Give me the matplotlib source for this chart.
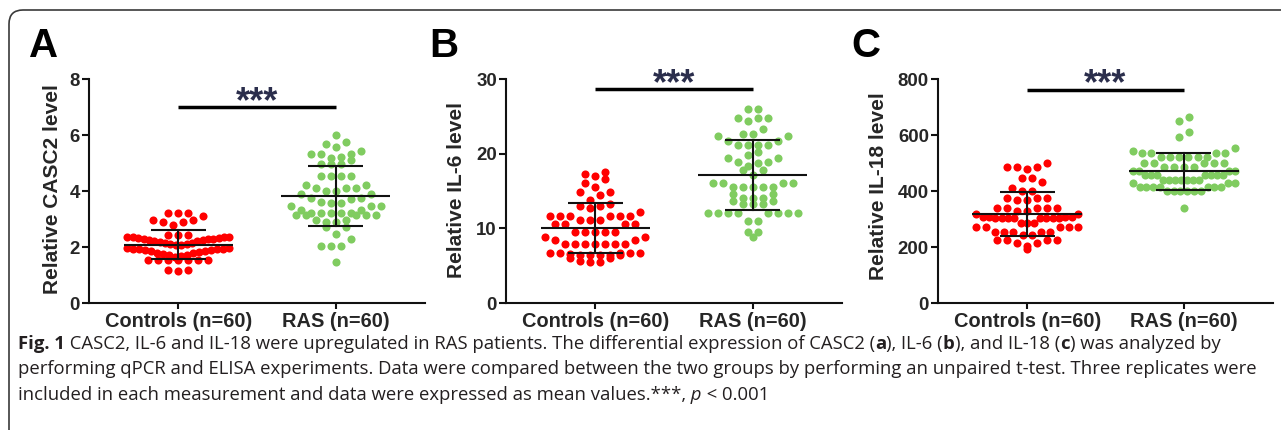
import numpy as np
import matplotlib
matplotlib.use("Agg")
import matplotlib.pyplot as plt
from matplotlib.patches import FancyBboxPatch
from matplotlib.transforms import IdentityTransform, offset_copy

# ---------------- data ----------------
groups = ["Controls (n=60)", "RAS (n=60)"]
panel_letters = ["A", "B", "C"]
y_labels = ["Relative CASC2 level", "Relative IL-6 level", "Relative IL-18 level"]
y_ticks = [[0, 2, 4, 6, 8], [0, 10, 20, 30], [0, 200, 400, 600, 800]]

casc2_controls = [3.20, 3.20, 3.20,
                  3.12, 2.98, 2.98, 2.88, 2.88, 2.79,
                  2.43, 2.43, 2.43,
                  2.35, 2.35, 2.34, 2.34, 2.33, 2.33, 2.30, 2.29, 2.27, 2.26,
                  2.24, 2.22, 2.20, 2.18, 2.16, 2.14, 2.12, 2.10, 2.08, 2.06,
                  1.95, 1.95, 1.94, 1.94, 1.93, 1.92, 1.90, 1.88, 1.86, 1.84,
                  1.82, 1.80, 1.78, 1.75, 1.72, 1.70, 1.67, 1.64,
                  1.55, 1.54, 1.53, 1.53, 1.53, 1.54, 1.55,
                  1.17, 1.16, 1.17]
casc2_ras = [6.00, 5.76, 5.67, 5.58, 5.43, 5.31, 5.31, 5.31, 5.23, 5.19, 5.11,
             4.95, 4.95, 4.95, 4.55, 4.55, 4.55, 4.55, 4.21, 4.21, 4.12, 4.12, 4.12,
             4.00, 4.00, 3.88, 3.88, 3.76, 3.76, 3.70, 3.62, 3.56, 3.56, 3.46, 3.46, 3.46,
             3.32, 3.32, 3.20, 3.20, 3.20, 3.20, 3.20, 3.14, 3.14, 3.14, 3.14, 3.14,
             2.96, 2.96, 2.90, 2.90, 2.73, 2.73, 2.45, 2.29, 2.05, 2.05, 2.05, 1.45]
il6_controls = [17.6, 17.3, 17.0, 16.65, 16.07, 15.6, 14.9, 14.9, 14.4, 13.8, 13.3,
                12.95, 12.95, 12.7, 12.2, 11.7, 11.7, 11.7, 11.7, 11.7, 11.7,
                11.1, 11.1, 11.1, 10.6, 10.6, 10.6, 10.6, 9.5, 9.5, 9.5, 9.5, 9.5,
                8.8, 8.8, 8.45, 8.45, 7.9, 7.9, 7.9, 7.9, 7.9, 7.9, 7.9,
                6.7, 6.7, 6.45, 6.4, 6.4, 6.7, 6.7, 6.42, 6.38, 6.5, 6.7,
                5.6, 5.5, 5.5, 6.0, 6.0]
il6_ras = [26.0, 26.0, 24.8, 24.8, 24.8, 24.4, 23.3, 22.7, 22.7, 22.3, 22.3, 21.7, 21.7,
           21.15, 21.15, 21.15, 21.15, 20.2, 19.8, 19.46, 19.46, 18.9, 18.9, 18.7, 18.4,
           17.8, 17.8, 17.1, 16.03, 16.03, 16.03, 16.03, 15.6, 15.6, 15.6, 15.6, 15.6,
           14.56, 14.56, 14.0, 14.0, 14.0, 13.7, 13.7, 13.2, 13.2, 13.2,
           12.0, 12.0, 12.0, 12.0, 12.0, 12.0, 12.0, 12.0, 11.0, 11.0, 9.55, 9.55, 8.9]
il18_controls = [499, 487, 487, 487, 479, 448, 448, 433, 410, 400, 400, 376, 376, 376,
                 368, 368, 338, 338, 338, 338, 338, 329, 329, 317, 317,
                 308, 308, 308, 308, 302, 302, 302, 302, 302, 302, 302, 302,
                 285, 285, 285, 273, 273, 273, 273, 273, 255, 255, 255, 255, 255,
                 243, 243, 225, 225, 225, 225, 213, 213, 193, 202]
il18_ras = [665, 650, 610, 594, 552, 544, 535, 535, 535, 535, 522, 522, 522, 522, 522, 522,
            499, 499, 499, 499, 499, 487, 487, 487, 487, 470, 470, 470, 470,
            457, 457, 457, 457, 457, 457, 457, 439, 439, 439, 439, 439, 439, 439,
            427, 427, 427, 415, 415, 415, 415, 415, 415, 415, 400, 400, 400, 400, 400, 400, 340]

panel_data = [(casc2_controls, casc2_ras), (il6_controls, il6_ras), (il18_controls, il18_ras)]
group_means = [[2.08, 3.81], [10.04, 17.14], [318, 470]]
group_sds = [[0.51, 1.07], [3.39, 4.74], [78, 66]]
sig_bar_y = [7.0, 28.6, 762]
sig_text = "***"

caption_lines = [
    [("Fig. 1", "bold", "normal"),
     (" CASC2, IL-6 and IL-18 were upregulated in RAS patients. The differential expression of CASC2 (", "normal", "normal"),
     ("a", "bold", "normal"), ("), IL-6 (", "normal", "normal"), ("b", "bold", "normal"),
     ("), and IL-18 (", "normal", "normal"), ("c", "bold", "normal"),
     (") was analyzed by", "normal", "normal")],
    [("performing qPCR and ELISA experiments. Data were compared between the two groups by performing an unpaired t-test. Three replicates were", "normal", "normal")],
    [("included in each measurement and data were expressed as mean values.***,", "normal", "normal"),
     (" p", "normal", "italic"), (" < 0.001", "normal", "normal")],
]

# ---------------- style ----------------
W, H = 1281, 430
RED = "#FF0000"
GREEN = "#80CC60"
TXT = "#262626"
STAR = "#2B2E4C"
plt.rcParams["font.family"] = ["Liberation Sans", "DejaVu Sans"]
CAP_FONT = ["Open Sans", "DejaVu Sans"]

fig = plt.figure(figsize=(W / 100, H / 100), dpi=100)

# rounded frame
frame = FancyBboxPatch((9, -30), W + 40, H - 10 + 30,
                       boxstyle="round,pad=0,rounding_size=14",
                       transform=IdentityTransform(), fill=False,
                       edgecolor="#3a3a3a", linewidth=1.2)
fig.patches.append(frame)

axes_px = [(89, 79, 425, 303), (506, 79, 842, 303), (938, 79, 1273, 303)]
letter_px = [(29, 57), (429, 57), (851, 57)]
label_x = [-0.110, -0.146, -0.179]
label_y = [0.509, 0.504, 0.52]
bin_anchor = [3.15, 10.8, 475.0]   # row boundaries of the dot layout


def swarm_x(ax, xc, vals, anchor, row_px=11.0, dot_px=10.0, max_w=102.0):
    """Prism-like dot rows: fixed-height rows, lowest values in the centre."""
    vals = np.asarray(vals, float)
    disp = ax.transData.transform(np.column_stack([np.full(vals.size, xc), vals]))
    ys = disp[:, 1]
    x0 = disp[0, 0]
    y_anchor = ax.transData.transform((xc, anchor))[1]
    rows = np.floor((ys - y_anchor) / row_px).astype(int)
    off = np.zeros(vals.size)
    for r in np.unique(rows):
        idx = np.where(rows == r)[0]
        n = idx.size
        if n == 1:
            continue
        sp = min(dot_px, max_w / (n - 1))
        slots = (np.arange(n) - (n - 1) / 2.0) * sp
        slots = sorted(slots, key=lambda s: (abs(s), s))
        idx_sorted = sorted(idx, key=lambda i: ys[i])
        for i, s in zip(idx_sorted, slots):
            off[i] = s
    out = ax.transData.inverted().transform(np.column_stack([x0 + off, ys]))
    return out[:, 0]


for k in range(3):
    l, t, r, b = axes_px[k]
    ax = fig.add_axes([l / W, 1 - b / H, (r - l) / W, (b - t) / H])
    ax.set_xlim(-0.57, 1.57)
    ax.set_ylim(y_ticks[k][0], y_ticks[k][-1])
    ax.set_yticks(y_ticks[k])
    ax.set_xticks([0, 1])
    ax.set_xticklabels(groups)
    for s in ["top", "right"]:
        ax.spines[s].set_visible(False)
    for s in ["left", "bottom"]:
        ax.spines[s].set_linewidth(1.5)
        ax.spines[s].set_color("#111111")
    ax.tick_params(axis="y", length=5, width=1.5, pad=1.5, labelsize=13.4,
                   labelcolor=TXT, color="#111111")
    ax.tick_params(axis="x", length=4.5, width=1.5, pad=2, labelsize=14.4,
                   labelcolor=TXT, color="#111111")
    for lab in ax.get_xticklabels() + ax.get_yticklabels():
        lab.set_fontweight("bold")
    ax.set_ylabel(y_labels[k], fontsize=15, fontweight="bold", color=TXT)
    ax.yaxis.label.set_va("center")
    ax.yaxis.set_label_coords(label_x[k], label_y[k])
    ax.patch.set_visible(False)

    ctrl, ras = panel_data[k]
    for gi, (vals, col) in enumerate([(ctrl, RED), (ras, GREEN)]):
        xs = swarm_x(ax, gi, vals, bin_anchor[k])
        ax.scatter(xs, vals, s=34, color=col, linewidths=0, zorder=2, clip_on=False)
        m, sd = group_means[k][gi], group_sds[k][gi]
        ax.plot([gi - 0.35, gi + 0.35], [m, m], color="#111111", lw=1.5, zorder=3,
                solid_capstyle="butt")
        ax.plot([gi, gi], [m - sd, m + sd], color="#111111", lw=1.5, zorder=3)
        for yy in (m - sd, m + sd):
            ax.plot([gi - 0.175, gi + 0.175], [yy, yy], color="#111111", lw=1.5,
                    zorder=3, solid_capstyle="butt")

    ax.plot([0, 1], [sig_bar_y[k], sig_bar_y[k]], color="#000000", lw=2.5,
            solid_capstyle="butt", clip_on=False, zorder=3)
    ttrans = offset_copy(ax.transData, fig=fig, x=0, y=-3.6, units="points")
    ax.text(0.5, sig_bar_y[k], sig_text, transform=ttrans, ha="center", va="baseline",
            fontsize=26, fontweight="bold", color=STAR, clip_on=False)

    lx, ly = letter_px[k]
    fig.text(lx / W, 1 - ly / H, panel_letters[k], fontsize=29, fontweight="bold",
             color="#000000", ha="left", va="baseline")

# caption with mixed styles
renderer = fig.canvas.get_renderer()
cap_size = 13.3
baselines = [349, 374.5, 400]
for line, yb in zip(caption_lines, baselines):
    x = 18.0
    for txt, wt, st in line:
        tt = fig.text(x / W, 1 - yb / H, txt, fontsize=cap_size, fontweight=wt,
                      fontstyle=st, family=CAP_FONT, color="#231F20",
                      ha="left", va="baseline")
        bb = tt.get_window_extent(renderer)
        x += bb.width

fig.savefig("out.png", dpi=100)
